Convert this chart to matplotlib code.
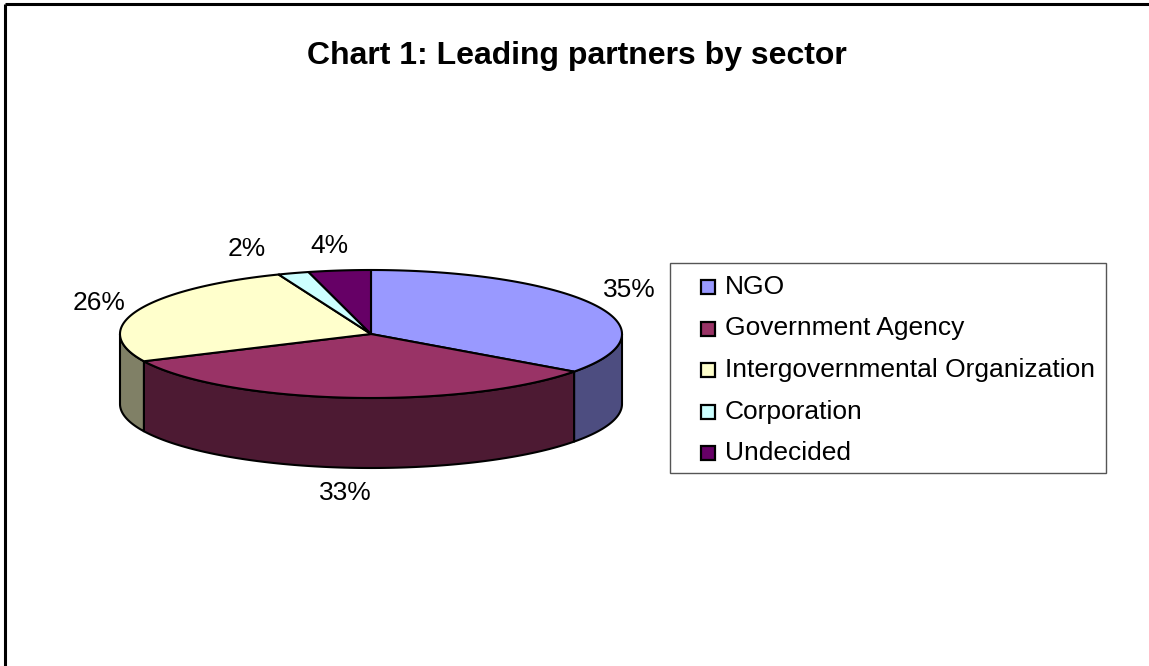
import numpy as np
import matplotlib.pyplot as plt
from matplotlib.patches import Polygon, Rectangle

plt.rcParams["font.family"] = ["Liberation Sans", "DejaVu Sans"]

# chart data
sectors = ["NGO", "Government Agency", "Intergovernmental Organization", "Corporation", "Undecided"]
shares = [35, 33, 26, 2, 4]
top_colors = ["#9999FF", "#993366", "#FFFFCC", "#CCFFFF", "#660066"]
side_colors = ["#4D4D80", "#4D1A33", "#808066", "#668080", "#330033"]

# small pixel nudges for the percentage labels so they don't collide
label_nudge = [(17, -4), (0, 0), (-20, 2), (-41, 0), (-8, 0)]

W, H = 1149, 666
CX, CY = 371, 334      # centre of the top face
RX, RY = 251, 64       # ellipse radii of the tilted disc
DEPTH = 70             # thickness of the disc


def rim(t, drop=0.0, rx=RX, ry=RY):
    """Point on the projected rim; t in degrees, clockwise from 12 o'clock."""
    t = np.radians(t)
    return CX + rx * np.sin(t), CY - ry * np.cos(t) + drop


fig = plt.figure(figsize=(W / 100, H / 100), dpi=100)
ax = fig.add_axes([0, 0, 1, 1])
ax.set_xlim(0, W)
ax.set_ylim(H, 0)
ax.axis("off")

total = sum(shares)
bounds = np.concatenate([[0], np.cumsum(shares) / total * 360])

# outer frame (only top and left visible)
ax.plot([5, W], [4, 4], color="black", lw=2.2, solid_capstyle="butt")
ax.plot([5, 5], [4, H], color="black", lw=2.2, solid_capstyle="butt")

# visible side walls: front half of the disc, 90..270 degrees
for i in range(len(shares)):
    lo = max(bounds[i], 90)
    hi = min(bounds[i + 1], 270)
    if hi <= lo:
        continue
    t = np.linspace(lo, hi, 120)
    xs, ys = rim(t)
    xb, yb = rim(t[::-1], DEPTH)
    pts = np.column_stack([np.concatenate([xs, xb]), np.concatenate([ys, yb])])
    ax.add_patch(Polygon(pts, closed=True, facecolor=side_colors[i],
                         edgecolor="black", lw=1.5, joinstyle="round"))

# top faces
for i in range(len(shares)):
    t = np.linspace(bounds[i], bounds[i + 1], 200)
    xs, ys = rim(t)
    pts = np.column_stack([np.concatenate([[CX], xs]), np.concatenate([[CY], ys])])
    ax.add_patch(Polygon(pts, closed=True, facecolor=top_colors[i],
                         edgecolor="black", lw=1.5, joinstyle="round"))

# percentage labels
for i, v in enumerate(shares):
    mid = (bounds[i] + bounds[i + 1]) / 2
    drop = DEPTH if np.cos(np.radians(mid)) < 0 else 0
    lx, ly = rim(mid, drop, RX + 20, RY + 25)
    dx, dy = label_nudge[i]
    ax.text(lx + dx, ly + dy, f"{round(v / total * 100)}%", fontsize=19,
            ha="center", va="center")

# title
ax.text(577, 56, "Chart 1: Leading partners by sector", fontsize=23,
        fontweight="bold", ha="center", va="center")

# legend box
ax.add_patch(Rectangle((670, 263), 436, 210, facecolor="white",
                       edgecolor="#555555", lw=1.0))
for i, name in enumerate(sectors):
    y = 287 + i * 41.5
    ax.add_patch(Rectangle((701, y - 7), 14, 14, facecolor=top_colors[i],
                           edgecolor="black", lw=1.6))
    ax.text(725, y, name, fontsize=19, ha="left", va="center")

fig.savefig("out.png", dpi=100)
